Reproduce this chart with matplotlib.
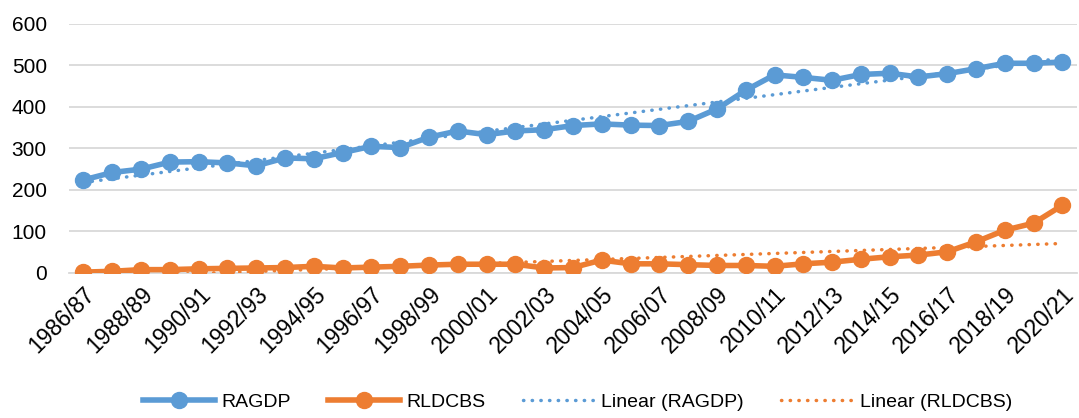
import numpy as np
import matplotlib
matplotlib.use("Agg")
import matplotlib.pyplot as plt

years = [f"{y}/{(y + 1) % 100:02d}" for y in range(1986, 2021)]

ragdp = [224, 242, 250, 267, 268, 265, 258, 277, 275, 290, 305, 302, 327, 342,
         333, 342, 345, 355, 359, 356, 355, 365, 395, 440, 477, 471, 464, 478,
         481, 472, 480, 492, 505, 505, 508]
rldcbs = [2, 4, 8, 8, 10, 11, 12, 13, 16, 12, 14, 16, 19, 21, 21, 21, 12, 13,
          31, 22, 22, 20, 18, 18, 16, 22, 26, 33, 39, 43, 51, 75, 103, 120, 163]

blue = "#5B9BD5"
orange = "#ED7D31"

plt.rcParams['font.family'] = ['Liberation Sans', 'DejaVu Sans']

fig = plt.figure(figsize=(10.79, 4.18), dpi=100)
ax = fig.add_axes([0.064, 0.347, 0.934, 0.596])

x = np.arange(len(years))
ax.plot(x, ragdp, color=blue, lw=4, marker='o', ms=11.5, label='RAGDP', zorder=3)
ax.plot(x, rldcbs, color=orange, lw=4, marker='o', ms=11.5, label='RLDCBS', zorder=3)

# linear trend lines (like Excel)
for vals, c, name in [(ragdp, blue, 'Linear (RAGDP)'), (rldcbs, orange, 'Linear (RLDCBS)')]:
    k, b = np.polyfit(x, vals, 1)
    ax.plot(x, k * x + b, color=c, lw=2.5, ls=(0, (0.1, 2.4)), dash_capstyle='round',
            label=name, zorder=4)

ax.set_xlim(-0.5, len(years) - 0.5)
ax.set_ylim(0, 600)
ax.set_yticks(range(0, 601, 100))
ax.set_xticks(x[::2])
ax.set_xticklabels(years[::2], rotation=45, ha='right', rotation_mode='anchor')
ax.tick_params(axis='both', length=0, colors='#000000')
ax.tick_params(axis='x', pad=7, labelsize=16.5)
ax.tick_params(axis='y', pad=16, labelsize=15)
ax.grid(axis='y', color='#D9D9D9', lw=1.3)
ax.set_axisbelow(True)
for s in ['top', 'right', 'left']:
    ax.spines[s].set_visible(False)
ax.spines['bottom'].set_color('#D9D9D9')
ax.spines['bottom'].set_linewidth(1.3)

fig.legend(loc='lower center', bbox_to_anchor=(0.535, -0.025), ncol=4, frameon=False,
           fontsize=14, handlelength=3.7, columnspacing=1.9, handletextpad=0.35)

fig.savefig('out.png', dpi=100)
